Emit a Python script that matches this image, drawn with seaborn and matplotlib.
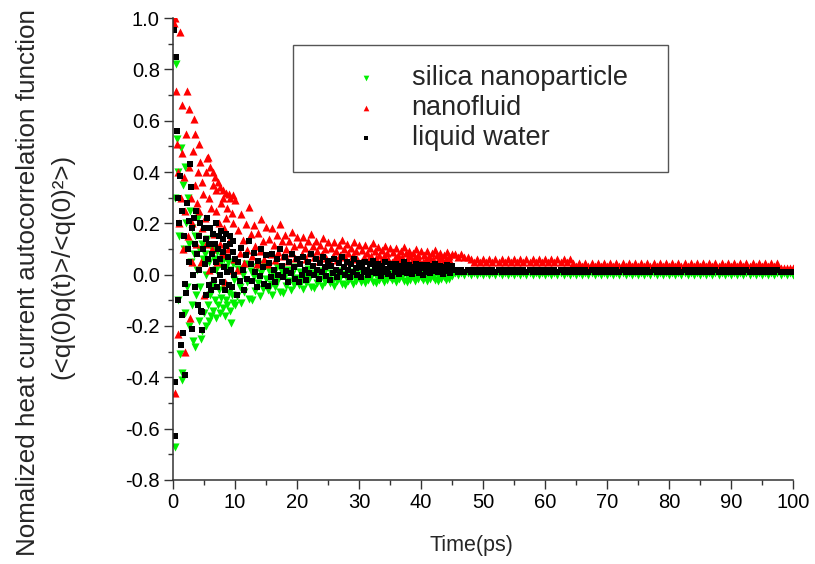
import numpy as np
import pandas as pd
import matplotlib
matplotlib.use('Agg')
import matplotlib.pyplot as plt
import seaborn as sns
from matplotlib.ticker import MultipleLocator, FormatStrFormatter

early_step = 0.125  # 0 .. 10 ps
mid_step = 0.25     # 10 .. 45 ps
tail_step = 0.5     # 45 .. 100 ps

# Normalized HCACF values
# early: t = 0.125 .. 10 ps, mid: t = 10.25 .. 45 ps, tail: t = 45.5 .. 100 ps
silica_early = [1.00, -0.67, 0.30, 0.82, 0.53, -0.10, 0.40, 0.15,
                -0.31, 0.495, -0.385, -0.41, 0.35, 0.10, -0.15, 0.42,
                0.20, -0.05, 0.30, 0.12, -0.20, 0.25, 0.05, -0.12,
                0.18, -0.26, 0.08, -0.28, 0.15, -0.08, 0.02, 0.22,
                -0.18, 0.10, -0.05, -0.25, 0.12, -0.22, 0.06, -0.15,
                0.08, -0.20, 0.00, 0.14, -0.12, -0.18, 0.05, -0.08,
                -0.16, 0.10, -0.04, -0.14, 0.06, -0.10, -0.17, 0.02,
                0.09, -0.12, -0.06, -0.15, 0.04, -0.09, 0.07, -0.13,
                -0.04, 0.06, -0.16, -0.10, 0.03, -0.12, 0.05, -0.07,
                -0.14, 0.02, -0.19, -0.08, 0.04, -0.11, -0.02, -0.12]
silica_mid = [-0.084, 0.024, -0.048, -0.111, -0.003, -0.066, 0.042, -0.030, -0.093, 0.015,
              -0.100, -0.010, -0.062, 0.028, -0.032, -0.085, 0.005, -0.055, 0.042, -0.018,
              -0.060, 0.015, -0.035, -0.079, -0.004, -0.048, 0.028, -0.022, -0.066, 0.009,
              -0.070, -0.007, -0.044, 0.019, -0.023, -0.060, 0.004, -0.039, 0.030, -0.012,
              -0.042, 0.012, -0.024, -0.056, -0.002, -0.033, 0.021, -0.015, -0.047, 0.008,
              -0.052, -0.006, -0.033, 0.013, -0.017, -0.044, 0.002, -0.029, 0.021, -0.010,
              -0.033, 0.007, -0.020, -0.043, -0.003, -0.026, 0.013, -0.013, -0.036, 0.004,
              -0.041, -0.006, -0.026, 0.009, -0.014, -0.035, 0.000, -0.023, 0.015, -0.009,
              -0.027, 0.005, -0.016, -0.034, -0.003, -0.021, 0.010, -0.011, -0.029, 0.002,
              -0.034, -0.006, -0.022, 0.006, -0.013, -0.029, -0.001, -0.020, 0.011, -0.008,
              -0.022, 0.003, -0.014, -0.029, -0.003, -0.018, 0.008, -0.010, -0.025, 0.001,
              -0.029, -0.006, -0.019, 0.004, -0.011, -0.025, -0.002, -0.017, 0.008, -0.008,
              -0.020, 0.003, -0.012, -0.025, -0.003, -0.016, 0.006, -0.009, -0.021, 0.001,
              -0.025, -0.004, -0.016, 0.005, -0.009, -0.022, -0.001, -0.015, 0.008, -0.006]
silica_tail = [0.005, 0.0, 0.005, 0.0, 0.005, 0.0, 0.005, 0.0, 0.005, 0.0,
               0.005, 0.0, 0.005, 0.0, 0.005, 0.0, 0.005, 0.0, 0.005, 0.0,
               0.005, 0.0, 0.005, 0.0, 0.005, 0.0, 0.005, 0.0, 0.005, 0.0,
               0.005, 0.0, 0.005, 0.0, 0.005, 0.0, 0.005, 0.0, 0.005, 0.0,
               0.005, 0.0, 0.005, 0.0, 0.005, 0.0, 0.005, 0.0, 0.005, 0.0,
               0.005, 0.0, 0.005, 0.0, 0.005, 0.0, 0.005, 0.0, 0.005, 0.0,
               0.005, 0.0, 0.005, 0.0, 0.005, 0.0, 0.005, 0.0, 0.005, 0.0,
               0.005, 0.0, 0.005, 0.0, 0.005, 0.0, 0.005, 0.0, 0.005, 0.0,
               0.005, 0.0, 0.005, 0.0, 0.005, 0.0, 0.005, 0.0, 0.005, 0.0,
               0.005, 0.0, 0.005, 0.0, 0.005, 0.0, 0.005, 0.0, 0.005, 0.0,
               0.005, 0.0, 0.005, 0.0, 0.005, 0.0, 0.005, 0.0, 0.005, 0.0]

nanofluid_early = [0.98, 1.00, -0.46, 0.715, 0.51, -0.23, 0.40, 0.20,
                   0.945, 0.30, 0.66, 0.475, 0.10, 0.38, -0.30, 0.25,
                   0.55, 0.715, 0.15, 0.645, 0.42, -0.17, 0.30, 0.05,
                   0.20, 0.48, 0.605, 0.55, 0.35, 0.12, 0.28, 0.40,
                   0.51, 0.25, 0.44, 0.05, 0.36, 0.18, 0.316, -0.08,
                   0.22, 0.40, 0.12, 0.455, 0.46, 0.30, 0.02, 0.42,
                   0.26, 0.10, 0.35, 0.40, 0.16, 0.38, 0.25, 0.33,
                   0.05, 0.36, 0.20, 0.12, 0.34, 0.28, 0.08, 0.30,
                   0.33, 0.18, -0.03, 0.22, 0.32, 0.26, 0.10, 0.316,
                   0.30, 0.14, 0.02, 0.24, 0.31, 0.20, 0.06, 0.29]
nanofluid_mid = [0.020, 0.173, 0.084, 0.237, 0.135, 0.046, 0.199, 0.097, 0.262, 0.160,
                 0.071, 0.194, 0.112, 0.040, 0.163, 0.092, 0.215, 0.133, 0.061, 0.184,
                 0.040, 0.139, 0.081, 0.180, 0.114, 0.057, 0.156, 0.090, 0.197, 0.131,
                 0.072, 0.153, 0.099, 0.052, 0.133, 0.086, 0.167, 0.113, 0.065, 0.146,
                 0.050, 0.119, 0.079, 0.148, 0.102, 0.062, 0.131, 0.085, 0.159, 0.113,
                 0.070, 0.132, 0.091, 0.055, 0.116, 0.081, 0.142, 0.101, 0.065, 0.127,
                 0.050, 0.105, 0.073, 0.128, 0.091, 0.059, 0.114, 0.078, 0.137, 0.101,
                 0.067, 0.118, 0.084, 0.054, 0.105, 0.076, 0.127, 0.093, 0.063, 0.114,
                 0.050, 0.097, 0.070, 0.116, 0.085, 0.058, 0.105, 0.073, 0.124, 0.093,
                 0.064, 0.106, 0.078, 0.054, 0.096, 0.071, 0.113, 0.085, 0.061, 0.103,
                 0.050, 0.087, 0.066, 0.103, 0.078, 0.056, 0.093, 0.069, 0.109, 0.084,
                 0.061, 0.094, 0.072, 0.053, 0.086, 0.067, 0.100, 0.078, 0.058, 0.091,
                 0.048, 0.078, 0.061, 0.091, 0.071, 0.053, 0.083, 0.063, 0.096, 0.076,
                 0.057, 0.084, 0.066, 0.050, 0.077, 0.062, 0.089, 0.071, 0.055, 0.082]
nanofluid_tail = [0.08, 0.07, 0.08, 0.07, 0.07, 0.06, 0.05, 0.06, 0.05, 0.06,
                  0.05, 0.06, 0.05, 0.06, 0.05, 0.06, 0.05, 0.06, 0.05, 0.06,
                  0.05, 0.06, 0.05, 0.06, 0.05, 0.06, 0.05, 0.06, 0.05, 0.06,
                  0.05, 0.06, 0.05, 0.06, 0.05, 0.06, 0.05, 0.06, 0.045, 0.035,
                  0.045, 0.035, 0.045, 0.035, 0.045, 0.035, 0.045, 0.035, 0.045, 0.035,
                  0.045, 0.035, 0.045, 0.035, 0.045, 0.035, 0.045, 0.035, 0.045, 0.035,
                  0.045, 0.035, 0.045, 0.035, 0.045, 0.035, 0.045, 0.035, 0.045, 0.035,
                  0.045, 0.035, 0.045, 0.035, 0.045, 0.035, 0.045, 0.035, 0.045, 0.035,
                  0.045, 0.035, 0.045, 0.035, 0.045, 0.035, 0.045, 0.035, 0.045, 0.035,
                  0.045, 0.035, 0.045, 0.035, 0.045, 0.035, 0.045, 0.035, 0.045, 0.035,
                  0.045, 0.035, 0.045, 0.035, 0.045, 0.025, 0.025, 0.025, 0.025, 0.025]

water_early = [0.955, -0.63, -0.42, 0.85, 0.56, 0.30, -0.10, 0.20,
               0.386, -0.275, 0.25, -0.158, -0.228, 0.15, -0.39, -0.036,
               -0.07, 0.28, 0.10, 0.21, 0.05, 0.43, 0.34, 0.18,
               -0.21, 0.00, 0.22, 0.12, -0.05, 0.25, 0.08, -0.12,
               0.15, 0.02, 0.20, -0.142, -0.216, -0.146, 0.10, 0.18,
               0.04, -0.08, 0.14, 0.22, 0.06, -0.04, 0.12, 0.18,
               -0.06, 0.08, 0.16, 0.02, -0.02, 0.12, 0.20, 0.05,
               -0.05, 0.10, 0.15, 0.00, 0.06, 0.17, -0.03, 0.09,
               0.14, 0.03, -0.06, 0.11, 0.16, 0.01, 0.07, -0.04,
               0.12, 0.15, 0.02, -0.05, 0.09, 0.13, 0.00, 0.06]
water_mid = [-0.080, 0.050, -0.025, 0.105, 0.020, -0.060, 0.075, -0.015, 0.130, 0.040,
             -0.025, 0.085, 0.010, -0.050, 0.055, -0.005, 0.100, 0.030, -0.035, 0.075,
             -0.045, 0.045, -0.010, 0.080, 0.020, -0.030, 0.060, 0.000, 0.100, 0.035,
             -0.010, 0.070, 0.015, -0.030, 0.050, 0.005, 0.080, 0.030, -0.015, 0.060,
             -0.030, 0.040, 0.000, 0.070, 0.020, -0.020, 0.050, 0.005, 0.080, 0.035,
             0.000, 0.060, 0.020, -0.015, 0.045, 0.010, 0.070, 0.030, -0.005, 0.055,
             -0.020, 0.035, 0.005, 0.060, 0.020, -0.010, 0.045, 0.010, 0.070, 0.030,
             0.000, 0.050, 0.020, -0.010, 0.040, 0.010, 0.060, 0.025, 0.000, 0.045,
             -0.010, 0.030, 0.010, 0.050, 0.020, 0.000, 0.040, 0.010, 0.055, 0.030,
             0.005, 0.043, 0.018, -0.005, 0.034, 0.011, 0.050, 0.024, 0.002, 0.040,
             -0.005, 0.029, 0.009, 0.043, 0.021, 0.001, 0.035, 0.012, 0.049, 0.026,
             0.008, 0.038, 0.018, 0.001, 0.031, 0.013, 0.043, 0.023, 0.006, 0.036,
             0.000, 0.027, 0.011, 0.038, 0.020, 0.005, 0.032, 0.014, 0.043, 0.025,
             0.010, 0.034, 0.018, 0.004, 0.028, 0.014, 0.038, 0.022, 0.008, 0.032]
water_tail = [0.02, 0.01, 0.02, 0.01, 0.02, 0.01, 0.02, 0.01, 0.02, 0.01,
              0.02, 0.01, 0.02, 0.01, 0.02, 0.01, 0.02, 0.01, 0.02, 0.01,
              0.02, 0.01, 0.02, 0.01, 0.02, 0.01, 0.02, 0.01, 0.02, 0.01,
              0.02, 0.01, 0.02, 0.01, 0.02, 0.01, 0.02, 0.01, 0.02, 0.01,
              0.02, 0.01, 0.02, 0.01, 0.02, 0.01, 0.02, 0.01, 0.02, 0.01,
              0.02, 0.01, 0.02, 0.01, 0.02, 0.01, 0.02, 0.01, 0.02, 0.01,
              0.02, 0.01, 0.02, 0.01, 0.02, 0.01, 0.02, 0.01, 0.02, 0.01,
              0.02, 0.01, 0.02, 0.01, 0.02, 0.01, 0.02, 0.01, 0.02, 0.01,
              0.02, 0.01, 0.02, 0.01, 0.02, 0.01, 0.02, 0.01, 0.02, 0.01,
              0.02, 0.01, 0.02, 0.01, 0.02, 0.01, 0.02, 0.01, 0.02, 0.01,
              0.02, 0.01, 0.02, 0.01, 0.02, 0.01, 0.01, 0.01, 0.01, 0.01]

series_names = ['silica nanoparticle', 'nanofluid', 'liquid water']
series_markers = ['v', '^', 's']
series_colors = ['#00f000', '#ff0000', '#000000']

# time grid (uniform sampling within each segment)
time = np.concatenate([
    np.arange(1, len(silica_early) + 1) * early_step,
    10 + np.arange(1, len(silica_mid) + 1) * mid_step,
    45 + np.arange(1, len(silica_tail) + 1) * tail_step,
])

df = pd.DataFrame({
    'Time': np.tile(time, 3),
    'HCACF': silica_early + silica_mid + silica_tail
             + nanofluid_early + nanofluid_mid + nanofluid_tail
             + water_early + water_mid + water_tail,
    'Series': np.repeat(series_names, len(time)),
})

sns.set_theme(style='ticks')
plt.rcParams['font.family'] = ['Liberation Sans', 'DejaVu Sans']

fig = plt.figure(figsize=(8.15, 5.64), dpi=100)
ax = fig.add_axes([0.2123, 0.149, 0.7607, 0.819])

sizes = {'v': 34, '^': 34, 's': 22}
for name, mk, col in zip(series_names, series_markers, series_colors):
    sns.scatterplot(data=df[df['Series'] == name], x='Time', y='HCACF',
                    marker=mk, color=col, s=sizes[mk], linewidth=0,
                    label=name, ax=ax)

ax.set_xlim(0, 100)
ax.set_ylim(-0.8, 1.0)
ax.xaxis.set_major_locator(MultipleLocator(10))
ax.xaxis.set_minor_locator(MultipleLocator(5))
ax.yaxis.set_major_locator(MultipleLocator(0.2))
ax.yaxis.set_minor_locator(MultipleLocator(0.1))
ax.yaxis.set_major_formatter(FormatStrFormatter('%.1f'))
ax.tick_params(which='major', direction='out', length=6.5, width=1.0,
               labelsize=14.5, colors='#333333', labelcolor='black', pad=3)
ax.tick_params(which='minor', direction='out', length=3.5, width=1.0,
               colors='#333333')
sns.despine(ax=ax)
for side in ['left', 'bottom']:
    ax.spines[side].set_color('#333333')
    ax.spines[side].set_linewidth(1.1)

ax.set_xlabel('')
ax.set_ylabel('')
fig.text(471 / 815, 1 - 545 / 564, 'Time(ps)', fontsize=15.5,
         ha='center', va='center')
fig.text(28 / 815, 1 - 283 / 564, 'Nomalized heat current autocorrelation function',
         fontsize=18.7, rotation=90, ha='center', va='center')
fig.text(62 / 815, 1 - 266 / 564, '(<q(0)q(t)>/<q(0)²>)',
         fontsize=18.7, rotation=90, ha='center', va='center')

leg = ax.legend(loc='upper left', mode='expand',
                bbox_to_anchor=(293 / 815, 1 - 172 / 564, 375 / 815, 127 / 564),
                bbox_transform=fig.transFigure, fontsize=19.5, frameon=True,
                fancybox=False, framealpha=1, borderaxespad=0, borderpad=0.75,
                handlelength=3.9, handletextpad=-0.27, labelspacing=0.15,
                markerscale=0.7)
leg.get_frame().set_edgecolor('#555555')
leg.get_frame().set_linewidth(1.0)

fig.savefig('out.png', dpi=100)
